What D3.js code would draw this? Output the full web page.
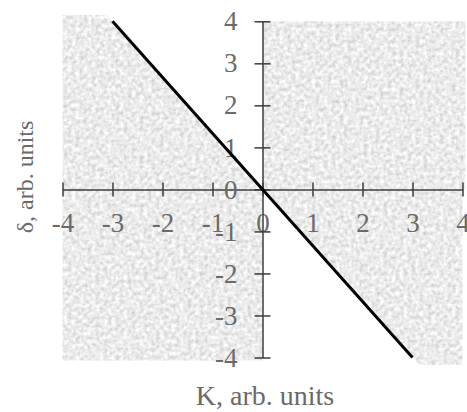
<!DOCTYPE html>
<html>
<head>
<meta charset="utf-8">
<script src="https://cdn.jsdelivr.net/npm/d3@7"></script>
<style>
  body { margin: 0; background: #fff; }
  text { font-family: "Liberation Serif", "Times New Roman", serif; }
</style>
</head>
<body>
<div id="chart"></div>
<script>
// tick values for both axes
const kTicks = [-4, -3, -2, -1, 0, 1, 2, 3, 4]
const deltaTicks = [-4, -3, -2, -1, 0, 1, 2, 3, 4]

// the black line, in K / delta units
const lineK = [-3, 3]
const lineDelta = [4, -4]

// shaded (textured) regions, in K / delta units
const shadeUpperLeft = [[-4, 4.15], [-3.11, 4.15], [0, 0], [-4, 0]]
const shadeLowerLeft = [[-4, 0], [0, 0], [0, -4.07], [-4, -4.07]]
const shadeUpperRight = [[0, 0], [4.06, 0], [4.06, 4], [0, 4]]
const shadeLowerRight = [[0, 0], [3.14, -4.18], [4, -4.18], [4, 0]]

const W = 467
const H = 412

const x = d3.scaleLinear().domain([-4, 4]).range([62.5, 462.5])
const y = d3.scaleLinear().domain([-4, 4]).range([357.5, 21.3])

const svg = d3.select('#chart').append('svg')
  .attr('width', W)
  .attr('height', H)

// noise texture filter
const filter = svg.append('defs').append('filter')
  .attr('id', 'noise')
  .attr('x', 0).attr('y', 0).attr('width', 1).attr('height', 1)
filter.append('feTurbulence')
  .attr('type', 'fractalNoise')
  .attr('baseFrequency', 0.25)
  .attr('numOctaves', 3)
  .attr('seed', 4)
  .attr('result', 'turb')
filter.append('feColorMatrix')
  .attr('in', 'turb')
  .attr('type', 'matrix')
  .attr('values', '0.6 0 0 0 0.53  0.6 0 0 0 0.53  0.6 0 0 0 0.53  0 0 0 0 1')
  .attr('result', 'grey')
filter.append('feComposite')
  .attr('in', 'grey')
  .attr('in2', 'SourceGraphic')
  .attr('operator', 'in')

const shadeLine = d3.line()
  .x(d => x(d[0]))
  .y(d => y(d[1]))

svg.append('g')
  .attr('filter', 'url(#noise)')
  .selectAll('path')
  .data([shadeUpperLeft, shadeLowerLeft, shadeUpperRight, shadeLowerRight])
  .enter().append('path')
  .attr('d', d => shadeLine(d) + 'Z')
  .attr('fill', '#000')

// x axis through delta = 0
const xAxis = svg.append('g')
  .attr('transform', 'translate(0,' + y(0) + ')')
  .call(d3.axisBottom(x)
    .tickValues(kTicks)
    .tickSizeInner(7)
    .tickSizeOuter(0)
    .tickPadding(16)
    .tickFormat(d => d.toString()))
xAxis.selectAll('line').attr('y1', -7)

// y axis through K = 0
const yAxis = svg.append('g')
  .attr('transform', 'translate(' + x(0) + ',0)')
  .call(d3.axisLeft(y)
    .tickValues(deltaTicks)
    .tickSizeInner(8)
    .tickSizeOuter(0)
    .tickPadding(17)
    .tickFormat(d => d.toString()))
yAxis.selectAll('line').attr('x1', 8)

svg.selectAll('.domain, .tick line')
  .attr('stroke', '#3c3c3c')
  .attr('stroke-width', 1.5)
svg.selectAll('.tick text')
  .attr('fill', '#6a6a6a')
  .style('font-size', '27px')
  .style('font-family', '"Liberation Serif", serif')

// the line
svg.append('line')
  .attr('x1', x(lineK[0]))
  .attr('y1', y(lineDelta[0]))
  .attr('x2', x(lineK[1]))
  .attr('y2', y(lineDelta[1]))
  .attr('stroke', '#000')
  .attr('stroke-width', 3)

// axis titles
svg.append('text')
  .attr('x', 265)
  .attr('y', 405)
  .attr('text-anchor', 'middle')
  .attr('fill', '#6a6a6a')
  .style('font-size', '28px')
  .text('K, arb. units')

svg.append('text')
  .attr('transform', 'translate(33,177) rotate(-90)')
  .attr('text-anchor', 'middle')
  .attr('fill', '#6a6a6a')
  .style('font-size', '24px')
  .text('δ, arb. units')
</script>
</body>
</html>
